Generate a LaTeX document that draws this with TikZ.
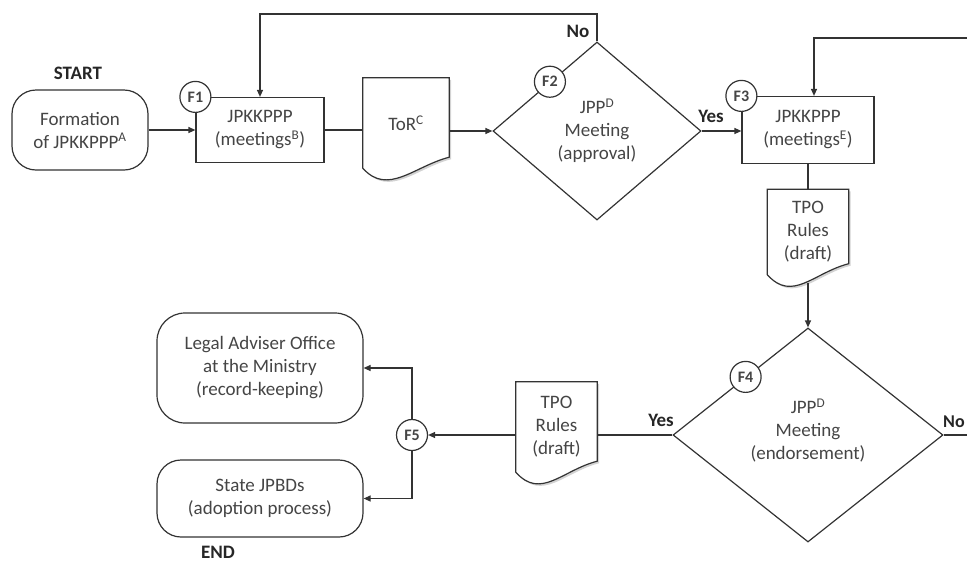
\documentclass[tikz,border=0pt]{standalone}
\usepackage{fontspec}
\setmainfont{Carlito}
\usetikzlibrary{arrows.meta,shapes.geometric,calc,shadows}
\definecolor{ln}{HTML}{333333}
\definecolor{txt}{HTML}{454545}
\definecolor{lbltxt}{HTML}{262626}
\pgfdeclarelayer{bg}
\pgfsetlayers{bg,main}
\newcommand{\docshape}[1]{%
  \draw[draw=ln, line width=1.2pt, fill=white,
        drop shadow={shadow xshift=2pt, shadow yshift=-2pt, opacity=0.35}]
    (#1.north west) -- (#1.north east) -- ([yshift=11pt]#1.south east)
    .. controls ([xshift=-35pt,yshift=2pt]#1.south east) and ([xshift=25pt,yshift=-28pt]#1.south west) ..
    (#1.south west) -- cycle;}
\begin{document}
\begin{tikzpicture}[x=1pt,y=-1pt,
  every node/.style={font=\fontsize{19}{23}\selectfont, text=txt},
  proc/.style={draw=ln, line width=1.2pt, fill=white, align=center, inner sep=0pt},
  term/.style={proc, rounded corners=24pt},
  dec/.style={draw=ln, line width=1.2pt, diamond, align=center, inner sep=0pt},
  docbox/.style={align=center, inner sep=0pt},
  fcirc/.style={circle, draw=ln, line width=1.2pt, fill=white, minimum size=31pt, inner sep=0pt, font=\bfseries\fontsize{16}{18}\selectfont},
  lbl/.style={font=\bfseries\fontsize{19}{23}\selectfont, text=lbltxt},
  conn/.style={draw=ln, line width=1.2pt},
  arr/.style={conn, -{Triangle[length=7pt,width=6pt]}},
]
\useasboundingbox (0,0) rectangle (967,563);

% nodes
\node[lbl] (startlbl) at (78,73) {START};
\node[term, minimum width=136pt, minimum height=80pt] (start) at (80,130) {Formation\\of JPKKPPP\textsuperscript{A}};
\node[proc, minimum width=128pt, minimum height=65pt] (box1) at (260,130) {JPKKPPP\\(meetings\textsuperscript{B})};
\node[docbox, minimum width=86pt, minimum height=90pt] (tor) at (406,123) {ToR\textsuperscript{C}};
\node[dec, minimum width=208pt, minimum height=178pt] (d2) at (597,131) {JPP\textsuperscript{D}\\Meeting\\(approval)};
\node[proc, minimum width=132pt, minimum height=67pt] (box3) at (808,130) {JPKKPPP\\(meetings\textsuperscript{E})};
\node[docbox, minimum width=81pt, minimum height=85pt] (tpo1) at (808,232) {TPO\\Rules\\(draft)};
\node[dec, minimum width=270pt, minimum height=214pt] (d4) at (808,435) {JPP\textsuperscript{D}\\Meeting\\(endorsement)\\[-12pt]\mbox{}};
\node[docbox, minimum width=81pt, minimum height=90pt] (tpo2) at (556.5,427) {TPO\\Rules\\(draft)};
\node[term, rounded corners=28pt, minimum width=206pt, minimum height=110pt] (legal) at (260,368) {Legal Adviser Office\\at the Ministry\\(record-keeping)};
\node[term, minimum width=206pt, minimum height=77pt] (state) at (260,498.5) {State JPBDs\\(adoption process)};
\node[lbl] (endlbl) at (218,552) {END};

\begin{pgfonlayer}{bg}
\docshape{tor}
\docshape{tpo1}
\docshape{tpo2}
\end{pgfonlayer}

\coordinate (loopup) at (597,14);
\coordinate (rin) at (967,38);
\coordinate (rout) at (967,435);

% connectors
\draw[arr] (start.east) -- (start.east -| box1.west);
\draw[conn] (box1.east) -- (box1.east -| tor.west);
\draw[arr] (tor.east |- d2.west) -- (d2.west);
\draw[arr] (d2.north) -- (loopup) -- (loopup -| box1.north) -- (box1.north);
\draw[arr] (d2.east) -- (d2.east -| box3.west);
\draw[arr] (rin) -- ([xshift=6pt]rin -| box3.north) -- ([xshift=6pt]box3.north);
\draw[conn] (box3.south) -- (tpo1.north);
\draw[arr] ([yshift=-8pt]tpo1.south) -- (d4.north);
\draw[conn] (d4.west) -- (d4.west -| tpo2.east);
\draw[conn] (d4.east) -- (rout);

\node[fcirc] (f5) at (412,435) {F5};
\draw[arr] (d4.west -| tpo2.west) -- (f5.east);
\draw[arr] (f5.north) |- (legal.east);
\draw[arr] (f5.south) |- (state.east);

% labels
\node[lbl] (no1) at (578,31) {No};
\node[lbl] (yes1) at (711,116) {Yes};
\node[lbl] (yes2) at (661,420) {Yes};
\node[lbl, anchor=west, inner sep=0pt, font=\bfseries\fontsize{18}{22}\selectfont] (no2) at (943,422) {No};

% F circles
\node[fcirc] (f1) at (box1.north west) {F1};
\node[fcirc] (f2) at ($(d2.west)!0.55!(d2.north)$) {F2};
\node[fcirc] (f3) at (box3.north west) {F3};
\node[fcirc] (f4) at ($(d4.west)!0.54!(d4.north)$) {F4};
\end{tikzpicture}
\end{document}
